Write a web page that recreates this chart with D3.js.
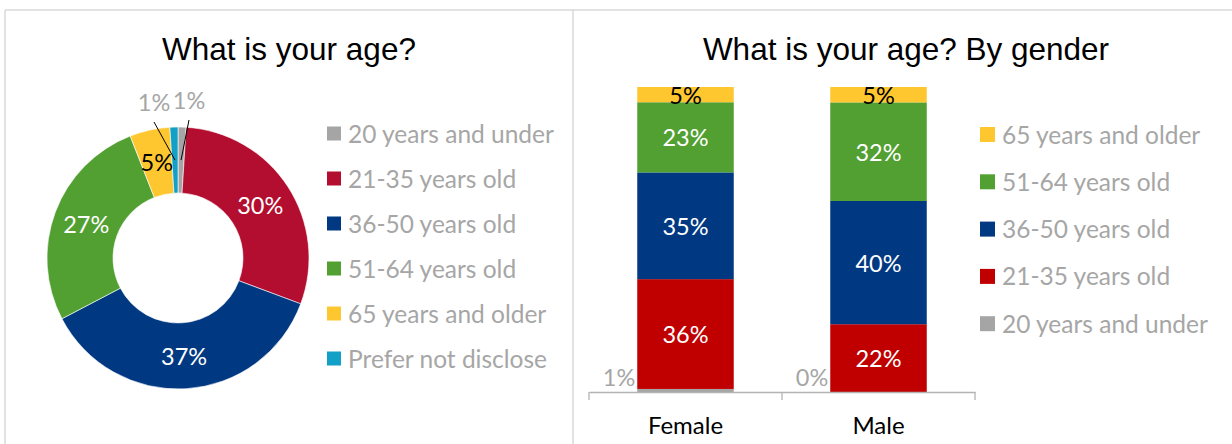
<!DOCTYPE html>
<html>
<head>
<meta charset="utf-8">
<script src="https://cdn.jsdelivr.net/npm/d3@7"></script>
<style>
  html, body { margin: 0; padding: 0; background: #fff; }
  svg { display: block; }
</style>
</head>
<body>
<svg id="chart" width="1232" height="444"></svg>
<script>
// ---- Age breakdown (donut) ----
const pieCategories = ["20 years and under", "21-35 years old", "36-50 years old",
                       "51-64 years old", "65 years and older", "Prefer not disclose"];
const pieValues = [1, 30, 37, 27, 5, 1];
const pieColors = ["#a5a5a5", "#b30e30", "#013882", "#52a032", "#ffc72f", "#13a0c6"];
const pieLabelColors = ["#a6a6a6", "#ffffff", "#ffffff", "#ffffff", "#000000", "#a6a6a6"];

// ---- Age breakdown by gender (100% stacked columns) ----
const genders = ["Female", "Male"];
const barSeries = ["20 years and under", "21-35 years old", "36-50 years old",
                   "51-64 years old", "65 years and older"];
const femaleValues = [1, 36, 35, 23, 5];
const maleValues = [0, 22, 40, 32, 5];
const barColors = ["#a5a5a5", "#c00000", "#013882", "#52a032", "#ffc72f"];
const barLabelColors = ["#a6a6a6", "#ffffff", "#ffffff", "#ffffff", "#000000"];

const titles = ["What is your age?", "What is your age? By gender"];

const svg = d3.select("#chart");
const labelFont = "Lato, 'Open Sans', sans-serif";
const titleFont = "'Liberation Sans', Arial, sans-serif";
const greyText = "#a6a6a6";
const labelSize = 23.5;
const legendSize = 24.5;

// frame around both panels
const frame = svg.append("g").attr("stroke", "#d9d9d9").attr("stroke-width", 1.5).attr("fill", "none");
frame.append("line").attr("x1", 5).attr("x2", 1232).attr("y1", 10).attr("y2", 10);
frame.append("line").attr("x1", 5).attr("x2", 5).attr("y1", 10).attr("y2", 444);
frame.append("line").attr("x1", 573).attr("x2", 573).attr("y1", 10).attr("y2", 444);

// titles
svg.append("text").attr("x", 289).attr("y", 60).attr("text-anchor", "middle")
  .attr("font-family", titleFont).attr("font-size", 31.5).attr("fill", "#000").text(titles[0]);
svg.append("text").attr("x", 906).attr("y", 60).attr("text-anchor", "middle")
  .attr("font-family", titleFont).attr("font-size", 31.5).attr("fill", "#000").text(titles[1]);

// ---------- donut ----------
const cx = 178, cy = 258, rOuter = 131, rInner = 65;
const pie = d3.pie().sort(null).value(d => d)(pieValues);
const arc = d3.arc().innerRadius(rInner).outerRadius(rOuter);
const labelArc = d3.arc().innerRadius(98).outerRadius(98);
const donut = svg.append("g").attr("transform", `translate(${cx},${cy})`);

donut.selectAll("path").data(pie).join("path")
  .attr("d", arc)
  .attr("fill", (d, i) => pieColors[i])
  .attr("stroke", "#fff").attr("stroke-width", 0.6);

const total = d3.sum(pieValues);
const pct = v => `${Math.round(v)}%`;

// small slices get labels lifted above the ring with leader lines
const calloutOffset = { 0: [11, -158], 5: [-24, -156] };
pie.forEach((d, i) => {
  const [lx, ly] = labelArc.centroid(d);
  const txt = pct(d.data / total * 100);
  if (calloutOffset[i]) {
    const [tx, ty] = calloutOffset[i];
    donut.append("line")
      .attr("x1", lx).attr("y1", ly)
      .attr("x2", tx).attr("y2", ty + 20)
      .attr("stroke", "#000").attr("stroke-width", 1);
    donut.append("text").attr("x", tx).attr("y", ty)
      .attr("text-anchor", "middle").attr("dominant-baseline", "central")
      .attr("font-family", labelFont).attr("font-size", labelSize)
      .attr("fill", pieLabelColors[i]).text(txt);
  } else {
    donut.append("text").attr("x", lx).attr("y", ly)
      .attr("text-anchor", "middle").attr("dominant-baseline", "central")
      .attr("font-family", labelFont).attr("font-size", labelSize)
      .attr("fill", pieLabelColors[i]).text(txt);
  }
});

// donut legend
const legL = svg.append("g");
pieCategories.forEach((name, i) => {
  const y = 133.5 + i * 45;
  legL.append("rect").attr("x", 327).attr("y", y - 7).attr("width", 14).attr("height", 14)
    .attr("fill", pieColors[i]);
  legL.append("text").attr("x", 348).attr("y", y).attr("dominant-baseline", "central")
    .attr("font-family", labelFont).attr("font-size", legendSize).attr("fill", greyText).text(name);
});

// ---------- stacked columns ----------
const x = d3.scaleBand().domain(genders).range([589, 975]).paddingInner(0).paddingOuter(0);
const y = d3.scaleLinear().domain([0, 1]).range([392, 87]);
const barW = x.bandwidth() * 0.5;

const rows = genders.map((g, gi) => {
  const vals = gi === 0 ? femaleValues : maleValues;
  const row = { gender: g };
  barSeries.forEach((s, si) => row[s] = vals[si]);
  return row;
});
const stacked = d3.stack().keys(barSeries).offset(d3.stackOffsetExpand)(rows);

const bars = svg.append("g");
stacked.forEach((layer, si) => {
  layer.forEach((seg, gi) => {
    const g = genders[gi];
    const x0 = x(g) + (x.bandwidth() - barW) / 2;
    const h = y(seg[0]) - y(seg[1]);
    if (h > 0) {
      bars.append("rect")
        .attr("x", x0).attr("width", barW)
        .attr("y", y(seg[1])).attr("height", h)
        .attr("fill", barColors[si]);
    }
    const raw = rows[gi][barSeries[si]];
    const t = bars.append("text")
      .attr("font-family", labelFont).attr("font-size", labelSize)
      .attr("fill", barLabelColors[si]).attr("dominant-baseline", "central")
      .text(`${raw}%`);
    if (si === 0) {
      // tiny base segment: label sits to the left of the column
      t.attr("x", x0 - 2).attr("y", 377).attr("text-anchor", "end");
    } else {
      t.attr("x", x(g) + x.bandwidth() / 2).attr("y", (y(seg[0]) + y(seg[1])) / 2)
        .attr("text-anchor", "middle");
    }
  });
});

// category axis with tick marks on the band boundaries
const axisG = svg.append("g").attr("transform", "translate(0,392)");
axisG.call(d3.axisBottom(x).tickSize(0).tickSizeOuter(0));
axisG.select(".domain").attr("stroke", "#b4b4b4").attr("stroke-width", 1.3);
axisG.selectAll(".tick text")
  .attr("y", 42).attr("dy", null)
  .attr("font-family", labelFont).attr("font-size", 24)
  .attr("fill", "#000");
const bounds = genders.map(g => x(g)).concat([x.range()[1]]);
axisG.selectAll(".bound").data(bounds).join("line").attr("class", "bound")
  .attr("x1", d => d).attr("x2", d => d).attr("y1", 0).attr("y2", 8)
  .attr("stroke", "#b4b4b4").attr("stroke-width", 1.3);

// column legend (top of stack first)
const legR = svg.append("g");
barSeries.slice().reverse().forEach((name, i) => {
  const si = barSeries.length - 1 - i;
  const yy = 134 + i * 47.3;
  legR.append("rect").attr("x", 980).attr("y", yy - 7).attr("width", 15).attr("height", 15)
    .attr("fill", barColors[si]);
  legR.append("text").attr("x", 1002).attr("y", yy).attr("dominant-baseline", "central")
    .attr("font-family", labelFont).attr("font-size", legendSize).attr("fill", greyText).text(name);
});
</script>
</body>
</html>
